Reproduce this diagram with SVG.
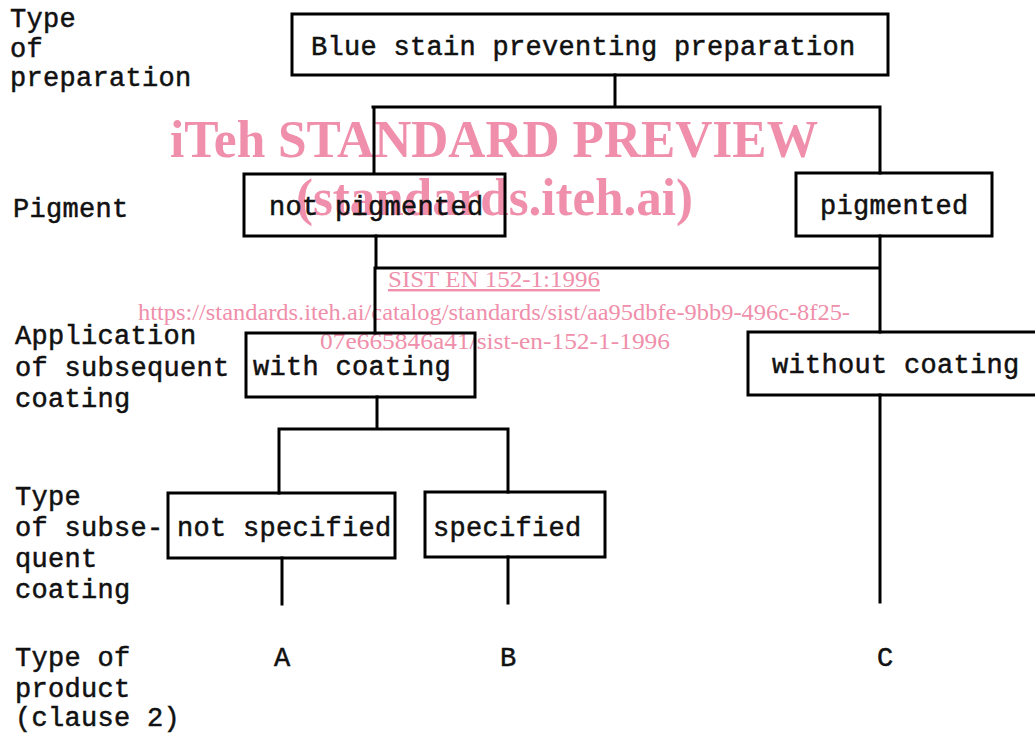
<svg xmlns="http://www.w3.org/2000/svg" width="1035" height="734" viewBox="0 0 1035 734">
<style>
.bg{fill:#ffffff}
.box{fill:none;stroke:#000;stroke-width:3}
.ln{fill:none;stroke:#000;stroke-width:3;stroke-linecap:square}
.t{font-family:"Liberation Mono","DejaVu Sans Mono",monospace;font-size:27px;fill:#111;stroke:#111;stroke-width:0.5px;letter-spacing:0.3px}
.wm{font-family:"Liberation Serif","Times New Roman",serif;fill:#ef8fab}
.wb{font-weight:bold;font-size:52px}
.wr{font-size:24px}
</style>
<rect class="bg" x="0" y="0" width="1035" height="734"/>
<g id="watermark">
<text class="wm wb" x="170" y="157" textLength="648" lengthAdjust="spacingAndGlyphs">iTeh STANDARD PREVIEW</text>
<text class="wm wb" x="296" y="215" textLength="397" lengthAdjust="spacingAndGlyphs">(standards.iteh.ai)</text>
<text class="wm wr" x="388" y="287" textLength="212" lengthAdjust="spacingAndGlyphs" text-decoration="underline">SIST EN 152-1:1996</text>
<text class="wm wr" x="138" y="320" textLength="712" lengthAdjust="spacingAndGlyphs">https://standards.iteh.ai/catalog/standards/sist/aa95dbfe-9bb9-496c-8f25-</text>
<text class="wm wr" x="320" y="349" textLength="350" lengthAdjust="spacingAndGlyphs">07e665846a41/sist-en-152-1-1996</text>
</g>
<g id="connectors">
<path class="ln" d="M615 75 V107 M373 107 H880 M374 107 V173 M880 107 V173"/>
<path class="ln" d="M376 236 V268 M375 268 H880 M880 236 V332 M375 268 V333"/>
<path class="ln" d="M377 397 V429 M279 429 H508 M279 429 V493 M508 429 V492"/>
<path class="ln" d="M880 395 V602 M282 558 V604 M508 557 V603"/>
</g>
<g id="n-root"><rect class="box" x="292" y="14" width="596" height="61"/><text class="t" x="311" y="55">Blue stain preventing preparation</text></g>
<g id="n-notpig"><rect class="box" x="244" y="174" width="261" height="62"/><text class="t" x="269" y="215">not pigmented</text></g>
<g id="n-pig"><rect class="box" x="796" y="173" width="196" height="63"/><text class="t" x="820" y="214">pigmented</text></g>
<g id="n-with"><rect class="box" x="246" y="333" width="229" height="64"/><text class="t" x="253" y="375">with coating</text></g>
<g id="n-without"><rect class="box" x="748" y="332" width="300" height="63"/><text class="t" x="772" y="373">without coating</text></g>
<g id="n-notspec"><rect class="box" x="168" y="493" width="227" height="65"/><text class="t" x="177" y="536">not specified</text></g>
<g id="n-spec"><rect class="box" x="425" y="492" width="180" height="65"/><text class="t" x="433" y="536">specified</text></g>
<g id="labels">
<text class="t" x="10" y="27">Type</text>
<text class="t" x="10" y="57">of</text>
<text class="t" x="10" y="86">preparation</text>
<text class="t" x="13" y="217">Pigment</text>
<text class="t" x="15" y="344">Application</text>
<text class="t" x="15" y="376">of subsequent</text>
<text class="t" x="15" y="407">coating</text>
<text class="t" x="15" y="505">Type</text>
<text class="t" x="15" y="536">of subse-</text>
<text class="t" x="15" y="567">quent</text>
<text class="t" x="15" y="598">coating</text>
<text class="t" x="15" y="666">Type of</text>
<text class="t" x="15" y="697">product</text>
<text class="t" x="15" y="726">(clause 2)</text>
<text class="t" x="274" y="666">A</text>
<text class="t" x="500" y="666">B</text>
<text class="t" x="877" y="666">C</text>
</g>
</svg>
